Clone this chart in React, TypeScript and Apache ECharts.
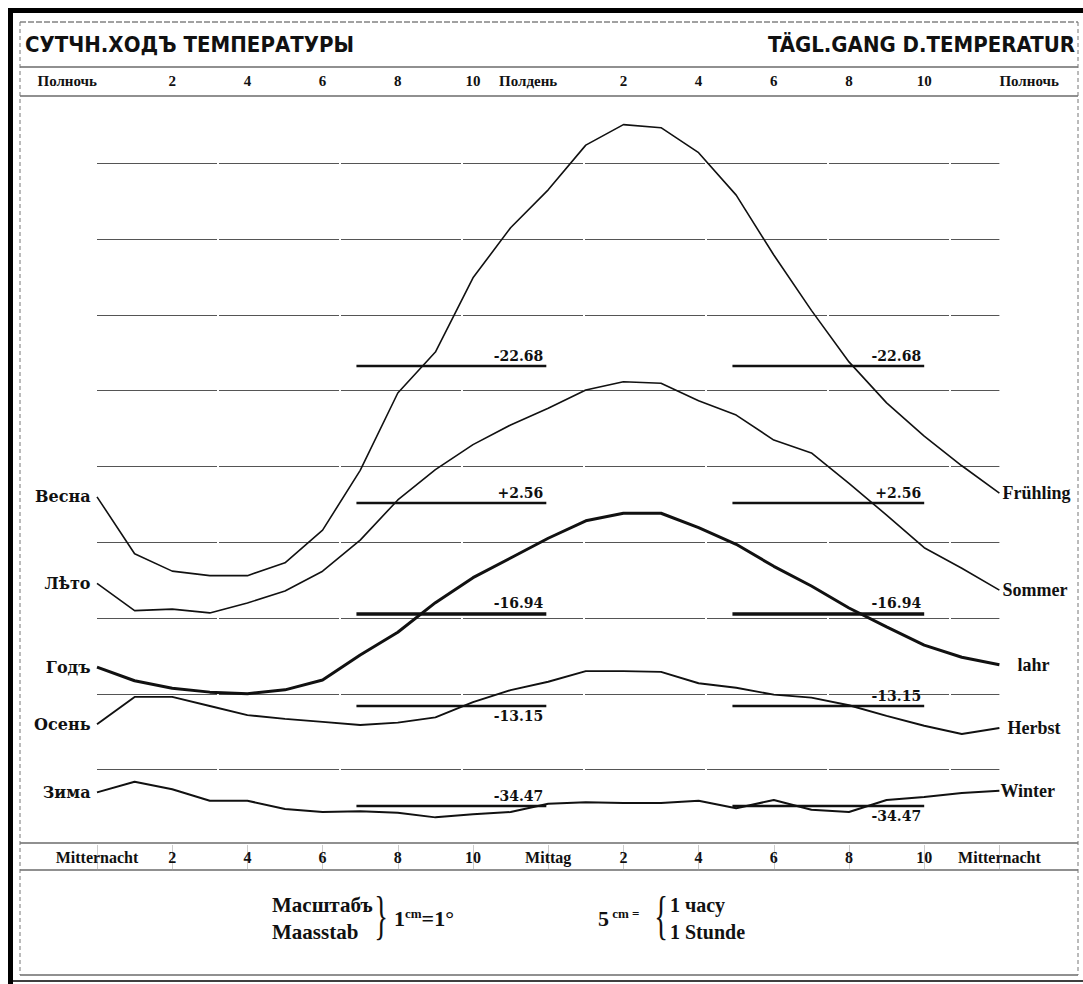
import React, { useEffect, useRef } from "react";
import * as echarts from "echarts";

// ---------------- data ----------------
const HOURS = [0, 1, 2, 3, 4, 5, 6, 7, 8, 9, 10, 11, 12, 13, 14, 15, 16, 17, 18, 19, 20, 21, 22, 23, 24];

const SEASONS_RU = ["Весна", "Лѣто", "Годъ", "Осень", "Зима"];
const SEASONS_DE = ["Frühling", "Sommer", "lahr", "Herbst", "Winter"];
const MEANS = [-22.68, 2.56, -16.94, -13.15, -34.47];

// hourly temperatures (°), midnight to midnight
const SPRING = [-24.41, -25.16, -25.39, -25.45, -25.45, -25.28, -24.85, -24.06, -23.04, -22.5, -21.52, -20.86, -20.36, -19.77, -19.5, -19.54, -19.87, -20.43, -21.22, -21.95, -22.63, -23.17, -23.61, -24.0, -24.36];
const SUMMER = [1.5, 1.14, 1.16, 1.11, 1.24, 1.4, 1.66, 2.07, 2.6, 3.0, 3.33, 3.59, 3.81, 4.05, 4.16, 4.14, 3.91, 3.72, 3.39, 3.22, 2.82, 2.4, 1.97, 1.7, 1.41];
const YEAR = [-17.65, -17.83, -17.93, -17.98, -18.0, -17.95, -17.82, -17.49, -17.19, -16.8, -16.47, -16.21, -15.95, -15.72, -15.62, -15.62, -15.81, -16.03, -16.32, -16.58, -16.87, -17.12, -17.36, -17.52, -17.62];
const AUTUMN = [-13.39, -13.03, -13.03, -13.15, -13.27, -13.32, -13.36, -13.4, -13.37, -13.3, -13.1, -12.94, -12.83, -12.69, -12.69, -12.7, -12.85, -12.91, -13.0, -13.04, -13.14, -13.28, -13.41, -13.52, -13.44];
const WINTER = [-34.29, -34.15, -34.25, -34.4, -34.4, -34.51, -34.55, -34.54, -34.56, -34.62, -34.58, -34.55, -34.44, -34.42, -34.43, -34.43, -34.4, -34.5, -34.39, -34.52, -34.55, -34.39, -34.35, -34.3, -34.27];

const TOP_TICKS = ["Полночь", "2", "4", "6", "8", "10", "Полдень", "2", "4", "6", "8", "10", "Полночь"];
const BOTTOM_TICKS = ["Mitternacht", "2", "4", "6", "8", "10", "Mittag", "2", "4", "6", "8", "10", "Mitternacht"];

// mean-line segments (hours)
const MEAN_SPANS = [[6.9, 11.95], [16.9, 22]];

// ---------------- layout ----------------
const W = 1083;
const H = 984;
const GRID_L = 97;
const GRID_R = 999.4;
const GRID_T = 96;
const GRID_B = 845.5;
const PX_PER_DEG = 75.8;
const Y_MAX = (GRID_B - GRID_T) / PX_PER_DEG;
// pixel row of each season's mean line on the sheet
const MEAN_LINE_PX = [365.7, 503, 613.3, 706, 806];
const LINE_WIDTHS = [1.6, 1.6, 3, 1.9, 2];
const RIGHT_LABEL_GAP = [3, 3, 18, 8, 1];
const LABEL_POS_LEFT = ["insideEndTop", "insideEndTop", "insideEndTop", "insideEndBottom", "insideEndTop"];
const LABEL_POS_RIGHT = ["insideEndTop", "insideEndTop", "insideEndTop", "insideEndTop", "insideEndBottom"];

const SERIF = '"Liberation Serif", "DejaVu Serif", serif';
const SERIF_WIDE = '"DejaVu Serif", "Liberation Serif", serif';
const SANS_COND = '"DejaVu Sans Condensed", "DejaVu Sans", sans-serif';
const INK = "#111";

const fmtMean = (m: number) => (m < 0 ? "-" : "+") + Math.abs(m).toFixed(2);

export default function App() {
  const ref = useRef<HTMLDivElement>(null);

  useEffect(() => {
    if (!ref.current) return;
    const chart = echarts.init(ref.current, undefined, { renderer: "svg" });
    const all = [SPRING, SUMMER, YEAR, AUTUMN, WINTER];

    const series = all.map((vals, k) => {
      const base = (GRID_B - MEAN_LINE_PX[k]) / PX_PER_DEG;
      const data = HOURS.map((h, i) => [h, base + vals[i] - MEANS[k]]);
      const lblStyle = {
        show: true,
        formatter: fmtMean(MEANS[k]),
        color: INK,
        fontFamily: SERIF_WIDE,
        fontWeight: "bold",
        fontSize: 14,
        distance: 3,
      };
      return {
        type: "line",
        name: SEASONS_DE[k],
        xAxisIndex: 1,
        yAxisIndex: 0,
        data,
        symbol: "none",
        silent: true,
        lineStyle: { color: INK, width: LINE_WIDTHS[k] },
        endLabel: {
          show: true,
          formatter: SEASONS_DE[k],
          color: INK,
          fontFamily: SERIF,
          fontWeight: "bold",
          fontSize: 18,
          distance: RIGHT_LABEL_GAP[k],
        },
        markPoint: {
          silent: true,
          symbol: "circle",
          symbolSize: 1,
          itemStyle: { color: "rgba(0,0,0,0)" },
          data: [
            {
              coord: data[0],
              label: {
                show: true,
                position: "left",
                distance: 6,
                formatter: SEASONS_RU[k],
                color: INK,
                fontFamily: SERIF_WIDE,
                fontWeight: "bold",
                fontSize: 16,
              },
            },
          ],
        },
        markLine: {
          silent: true,
          symbol: ["none", "none"],
          lineStyle: { color: INK, width: k === 2 ? 3.5 : 2.4, type: "solid" },
          label: lblStyle,
          data: [
            [
              { coord: [MEAN_SPANS[0][0], base], label: { ...lblStyle, position: LABEL_POS_LEFT[k] } },
              { coord: [MEAN_SPANS[0][1], base], label: { ...lblStyle, position: LABEL_POS_LEFT[k] } },
            ],
            [
              { coord: [MEAN_SPANS[1][0], base], label: { ...lblStyle, position: LABEL_POS_RIGHT[k] } },
              { coord: [MEAN_SPANS[1][1], base], label: { ...lblStyle, position: LABEL_POS_RIGHT[k] } },
            ],
          ],
        },
      };
    });

    const hline = (y: number, x1 = 20, x2 = 1078, w = 1, dash: any = "solid", color = "#222") => ({
      type: "line",
      silent: true,
      shape: { x1, y1: y, x2, y2: y },
      style: { stroke: color, lineWidth: w, lineDash: dash === "solid" ? null : dash },
    });
    const vline = (x: number, y1: number, y2: number, w = 1, dash: any = "solid", color = "#222") => ({
      type: "line",
      silent: true,
      shape: { x1: x, y1, x2: x, y2 },
      style: { stroke: color, lineWidth: w, lineDash: dash === "solid" ? null : dash },
    });
    const txt = (text: string, x: number, y: number, font: string, align = "left", extra: any = {}) => ({
      type: "text",
      silent: true,
      style: { text, x, y, font, fill: INK, textAlign: align, textVerticalAlign: "middle", ...extra },
    });
    const brace = (ch: string, x: number, y: number) => ({
      type: "text",
      silent: true,
      x,
      y,
      scaleX: 0.55,
      style: { text: ch, x: 0, y: 0, font: "52px " + SERIF, fill: INK, textAlign: "center", textVerticalAlign: "middle" },
    });

    const option: any = {
      animation: false,
      backgroundColor: "#ffffff",
      grid: { left: GRID_L, right: W - GRID_R, top: GRID_T, bottom: H - GRID_B, containLabel: false },
      xAxis: [
        {
          type: "value",
          position: "top",
          min: 0,
          max: 24,
          interval: 2,
          axisLine: { show: false },
          splitLine: { show: false },
          axisTick: { show: true, inside: true, length: 26, lineStyle: { color: "#999", type: "dotted", width: 1 } },
          axisLabel: {
            margin: 8,
            color: INK,
            fontFamily: SERIF,
            fontWeight: "bold",
            fontSize: 15,
            alignMinLabel: "right",
            alignMaxLabel: "left",
            formatter: (v: number) => {
              const s = TOP_TICKS[Math.round(v / 2)];
              return v === 12 ? "{noon|" + s + "}" : s;
            },
            rich: {
              noon: { padding: [0, 40, 0, 0], color: INK, fontFamily: SERIF, fontWeight: "bold", fontSize: 15 },
            },
          },
        },
        {
          type: "value",
          position: "bottom",
          min: 0,
          max: 24,
          interval: 2,
          axisLine: { show: false },
          axisTick: { show: false },
          splitLine: { show: false },
          axisLabel: {
            margin: 4,
            color: INK,
            fontFamily: SERIF,
            fontWeight: "bold",
            fontSize: 16,
            formatter: (v: number) => BOTTOM_TICKS[Math.round(v / 2)],
          },
        },
      ],
      yAxis: [
        {
          type: "value",
          min: 0,
          max: Y_MAX,
          interval: 1,
          axisLine: { show: false },
          axisTick: { show: false },
          axisLabel: { show: false },
          splitLine: {
            show: true,
            showMinLine: false,
            showMaxLine: false,
            lineStyle: { color: "#555", width: 1, type: [120, 2] },
          },
        },
      ],
      series,
      graphic: [
        // frame
        { type: "rect", silent: true, shape: { x: 8, y: 8, width: 1075, height: 5 }, style: { fill: "#000" } },
        { type: "rect", silent: true, shape: { x: 8, y: 8, width: 5, height: 976 }, style: { fill: "#000" } },
        hline(22, 20, 1078, 1, [6, 2], "#444"),
        hline(67, 20, 1078, 1.2),
        hline(GRID_T, 20, 1078, 1.2),
        hline(843, 20, 1078, 1.2),
        hline(870, 20, 1078, 1.2),
        hline(975, 20, 1078, 1.2),
        hline(981, 13, 1083, 1.5, "solid", "#000"),
        vline(20, 22, 975, 1, [4, 3], "#777"),
        vline(1078, 22, 975, 1, [4, 3], "#777"),
        // titles
        txt("СУТЧН.ХОДЪ ТЕМПЕРАТУРЫ", 25, 44, "bold 22px " + SANS_COND),
        txt("TÄGL.GANG D.TEMPERATUR", 1075, 44, "bold 22px " + SANS_COND, "right"),
        // scale legend
        txt("Масштабъ", 272, 905, "bold 21px " + SERIF),
        txt("Maasstab", 272, 932, "bold 21px " + SERIF),
        brace("}", 381, 916),
        {
          type: "text",
          silent: true,
          style: {
            text: "{a|1}{b|cm}{a|=1°}",
            x: 394,
            y: 918,
            textVerticalAlign: "middle",
            fill: INK,
            rich: {
              a: { fontFamily: SERIF, fontWeight: "bold", fontSize: 22, fill: INK, verticalAlign: "bottom" },
              b: { fontFamily: SERIF, fontWeight: "bold", fontSize: 13, fill: INK, verticalAlign: "top" },
            },
          },
        },
        {
          type: "text",
          silent: true,
          style: {
            text: "{a|5}{b| cm =}",
            x: 598,
            y: 918,
            textVerticalAlign: "middle",
            fill: INK,
            rich: {
              a: { fontFamily: SERIF, fontWeight: "bold", fontSize: 22, fill: INK, verticalAlign: "bottom" },
              b: { fontFamily: SERIF, fontWeight: "bold", fontSize: 13, fill: INK, verticalAlign: "top" },
            },
          },
        },
        brace("{", 661, 916),
        txt("1 часу", 670, 905, "bold 20px " + SERIF),
        txt("1 Stunde", 670, 932, "bold 20px " + SERIF),
      ],
    };

    chart.setOption(option);
    return () => chart.dispose();
  }, []);

  return (
    <div
      ref={ref}
      style={{ position: "fixed", left: 0, top: 0, width: W, height: H, background: "#fff" }}
    />
  );
}
